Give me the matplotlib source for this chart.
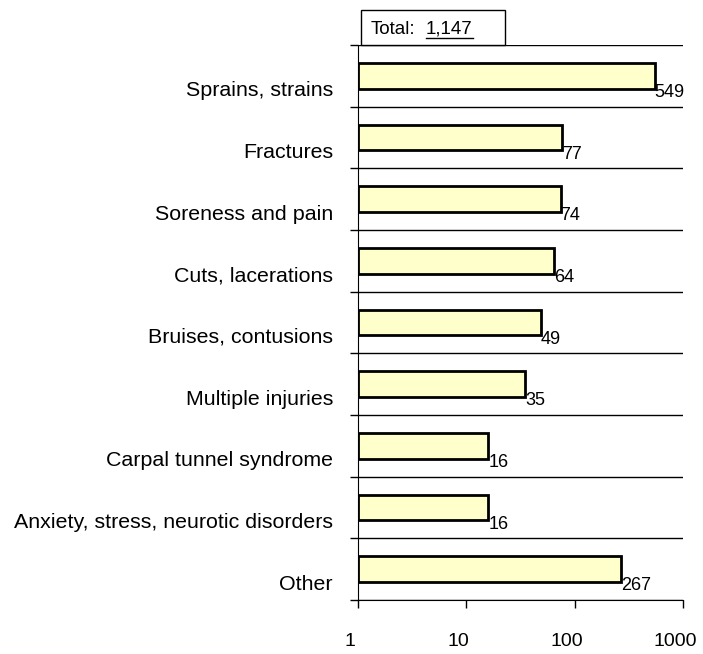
import numpy as np
import matplotlib
matplotlib.use("Agg")
import matplotlib.pyplot as plt
from matplotlib.lines import Line2D
from matplotlib.patches import Rectangle
from matplotlib.transforms import ScaledTranslation

plt.rcParams['font.family'] = ['Liberation Sans', 'DejaVu Sans']

#Data
categories = ["Sprains, strains", "Fractures", "Soreness and pain", "Cuts, lacerations",
              "Bruises, contusions", "Multiple injuries", "Carpal tunnel syndrome",
              "Anxiety, stress, neurotic disorders", "Other"]
values = [549, 77, 74, 64, 49, 35, 16, 16, 267]
xticks = [1, 10, 100, 1000]
total_label = "1,147"

W, H = 703, 654
fig = plt.figure(figsize=(W / 100, H / 100), dpi=100)
ax = fig.add_axes([358 / W, 1 - 600 / H, (683 - 358) / W, (600 - 45) / H])

y = np.arange(len(categories))
vals = np.array(values, dtype=float)
ax.barh(y, vals - 1, left=1, height=0.42, color="#FFFFCC", edgecolor="black", linewidth=2, zorder=3)

ax.set_xscale("log")
ax.set_xlim(1, 1000)
ax.set_ylim(len(categories) - 0.5, -0.5)

#x axis (labels sit a little left of their ticks, as in the original)
ax.set_xticks(xticks)
ax.set_xticklabels([str(t) for t in xticks], fontsize=14)
ax.xaxis.set_minor_locator(matplotlib.ticker.NullLocator())
ax.tick_params(axis="x", direction="out", length=6, width=1, pad=17.5)
shift = ScaledTranslation(-0.08, 0, fig.dpi_scale_trans)
for lbl in ax.get_xticklabels():
    lbl.set_transform(lbl.get_transform() + shift)

#y axis: separators at boundaries, labels sit a bit below the bar centres
ax.set_yticks(np.arange(len(categories) + 1) - 0.5)
ax.set_yticklabels([])
ax.set_yticks(y + 0.21, minor=True)
ax.set_yticklabels(categories, minor=True, fontsize=15.4)
ax.tick_params(axis="y", which="major", direction="out", length=6, width=1)
ax.tick_params(axis="y", which="minor", length=0, pad=18)
ax.yaxis.grid(True, which="major", color="black", linewidth=1, zorder=1)

for s in ["top", "right"]:
    ax.spines[s].set_visible(False)

#data labels
for yi, v in zip(y, values):
    ax.text(v, yi + 0.27, str(v), ha="left", va="center", fontsize=13, zorder=4)

#Total box
fig.patches.append(Rectangle((361 / W, 1 - 45 / H), (505 - 361) / W, 35 / H,
                             transform=fig.transFigure, facecolor="white", edgecolor="black", linewidth=1))
fig.text(371 / W, 1 - 29 / H, "Total:", ha="left", va="center", fontsize=13.5)
fig.text(426 / W, 1 - 29 / H, total_label, ha="left", va="center", fontsize=13.5)
fig.lines.append(Line2D([426 / W, 473 / W], [1 - 38 / H, 1 - 38 / H], transform=fig.transFigure,
                        color="black", linewidth=1))

fig.savefig("out.png", dpi=100)
